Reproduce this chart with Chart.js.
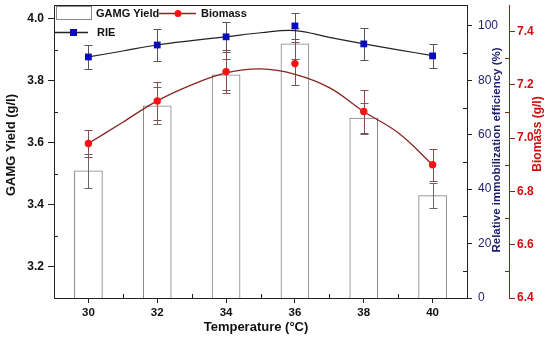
<!DOCTYPE html>
<html>
<head>
<title>GAMG yield, RIE and biomass vs temperature</title>
<script src="https://cdn.jsdelivr.net/npm/chart.js"></script>
<style>
  html, body { margin: 0; padding: 0; background: #fff; }
  #wrap { width: 550px; height: 339px; }
</style>
</head>
<body>
<div id="wrap"><canvas id="myChart" width="550" height="339"></canvas></div>
<script>
var temps = [30, 32, 34, 36, 38, 40];
var gamgYield = [3.51, 3.72, 3.82, 3.92, 3.68, 3.43];
var gamgErr = [0.055, 0.06, 0.05, 0.05, 0.05, 0.04];
var rie = [88.6, 93.0, 96.0, 100.0, 93.4, 89.0];
var rieErr = [4.3, 6.0, 5.5, 4.8, 5.8, 4.5];
var biomass = [6.98, 7.14, 7.25, 7.28, 7.10, 6.90];
var biomassErr = [0.05, 0.07, 0.08, 0.08, 0.08, 0.06];

// fitted curves
var fitTemps = [30, 31, 32, 33, 34, 35, 36, 37, 38, 39, 40];
var rieFit = [88.6, 90.8, 93.0, 94.6, 96.0, 97.5, 98.3, 95.8, 93.4, 91.2, 89.1];
var biomassFit = [6.98, 7.06, 7.14, 7.20, 7.245, 7.26, 7.24, 7.19, 7.10, 7.02, 6.90];

var xTicks = [30, 32, 34, 36, 38, 40];
var xMinor = [31, 33, 35, 37, 39];
var yieldTicks = [3.2, 3.4, 3.6, 3.8, 4.0];
var yieldMinor = [3.3, 3.5, 3.7, 3.9];
var rieTicks = [0, 20, 40, 60, 80, 100];
var rieMinor = [10, 30, 50, 70, 90];
var bioTicks = [6.4, 6.6, 6.8, 7.0, 7.2, 7.4];
var bioMinor = [6.5, 6.7, 6.9, 7.1, 7.3];

var FONT = '"Liberation Sans", Arial, sans-serif';
var NAVY = '#1c1c6e';
var DARKRED = '#8b2323';
var RED = '#d01010';

function pts(xs, ys) {
    return xs.map(function(x, i) { return {x: x, y: ys[i]}; });
}
function setTicks(list) {
    return function(s) { s.ticks = list.map(function(v) { return {value: v}; }); };
}
// fix the box size of a scale and drop the label overflow padding
function fitBox(w, h) {
    return function(s) {
        if (w) s.width = w;
        if (h) s.height = h;
        s.paddingTop = 0; s.paddingBottom = 0;
        s.paddingLeft = 0; s.paddingRight = 0;
    };
}

function drawErr(ctx, ys, errs, xScale, yScale, color) {
    ctx.save();
    ctx.strokeStyle = color;
    ctx.lineWidth = 1;
    for (var i = 0; i < temps.length; i++) {
        var px = Math.round(xScale.getPixelForValue(temps[i])) + 0.5;
        var top = Math.round(yScale.getPixelForValue(ys[i] + errs[i])) + 0.5;
        var bot = Math.round(yScale.getPixelForValue(ys[i] - errs[i])) + 0.5;
        ctx.beginPath();
        ctx.moveTo(px, top); ctx.lineTo(px, bot);
        ctx.moveTo(px - 4, top); ctx.lineTo(px + 4, top);
        ctx.moveTo(px - 4, bot); ctx.lineTo(px + 4, bot);
        ctx.stroke();
    }
    ctx.restore();
}

var errorBars = {
    id: 'errorBars',
    afterDatasetDraw: function(chart, args) {
        if (args.index !== 0) return;
        var s = chart.scales, ctx = chart.ctx;
        drawErr(ctx, gamgYield, gamgErr, s.x, s.y, '#666');
        drawErr(ctx, rie, rieErr, s.x, s.y1, '#555');
        drawErr(ctx, biomass, biomassErr, s.x, s.y2, '#8a4a4a');
    }
};

function minorY(ctx, scale, list, x, dir) {
    list.forEach(function(v) {
        var py = Math.round(scale.getPixelForValue(v)) + 0.5;
        ctx.beginPath(); ctx.moveTo(x, py); ctx.lineTo(x + dir * 4, py); ctx.stroke();
    });
}

var decorations = {
    id: 'decorations',
    afterDraw: function(chart) {
        var ctx = chart.ctx, a = chart.chartArea, s = chart.scales;
        ctx.save();
        ctx.lineWidth = 1;
        // top frame line
        ctx.strokeStyle = '#222';
        ctx.beginPath(); ctx.moveTo(a.left, a.top + 0.5); ctx.lineTo(a.right, a.top + 0.5); ctx.stroke();
        // minor ticks pointing inward
        xMinor.forEach(function(v) {
            var px = Math.round(s.x.getPixelForValue(v)) + 0.5;
            ctx.beginPath(); ctx.moveTo(px, a.bottom); ctx.lineTo(px, a.bottom - 4); ctx.stroke();
        });
        minorY(ctx, s.y, yieldMinor, a.left, 1);
        minorY(ctx, s.y1, rieMinor, a.right, -1);
        ctx.strokeStyle = DARKRED;
        minorY(ctx, s.y2, bioMinor, s.y2.left, -1);

        // axis titles
        ctx.textAlign = 'center';
        ctx.textBaseline = 'middle';
        ctx.fillStyle = '#111';
        ctx.font = 'bold 13px ' + FONT;
        ctx.fillText('Temperature (\u00B0C)', 256, 327);
        ctx.save(); ctx.translate(11, 145); ctx.rotate(-Math.PI / 2);
        ctx.fillText('GAMG Yield (g/l)', 0, 0); ctx.restore();
        ctx.fillStyle = NAVY;
        ctx.font = 'bold 11.5px ' + FONT;
        ctx.save(); ctx.translate(497, 150); ctx.rotate(-Math.PI / 2);
        ctx.fillText('Relative immobilization efficiency (%)', 0, 0); ctx.restore();
        ctx.fillStyle = RED;
        ctx.font = 'bold 12px ' + FONT;
        ctx.save(); ctx.translate(538, 134); ctx.rotate(-Math.PI / 2);
        ctx.fillText('Biomass (g/l)', 0, 0); ctx.restore();

        // legend
        ctx.textAlign = 'left';
        ctx.fillStyle = '#111';
        ctx.font = 'bold 11px ' + FONT;
        ctx.strokeStyle = '#888';
        ctx.strokeRect(56.5, 6.5, 35, 13);
        ctx.fillText('GAMG Yield', 96, 14);
        ctx.strokeStyle = DARKRED; ctx.lineWidth = 1.3;
        ctx.beginPath(); ctx.moveTo(159, 13.5); ctx.lineTo(196, 13.5); ctx.stroke();
        ctx.fillStyle = '#ff1010';
        ctx.beginPath(); ctx.arc(178, 13.5, 3.5, 0, Math.PI * 2); ctx.fill();
        ctx.fillStyle = '#111';
        ctx.fillText('Biomass', 201, 14);
        ctx.strokeStyle = '#222';
        ctx.beginPath(); ctx.moveTo(55, 32.5); ctx.lineTo(88, 32.5); ctx.stroke();
        ctx.fillStyle = '#0a0ac0';
        ctx.fillRect(70, 29, 7, 7);
        ctx.fillStyle = '#111';
        ctx.fillText('RIE', 97, 33);
        ctx.restore();
    }
};

var ctx = document.getElementById('myChart').getContext('2d');
new Chart(ctx, {
    type: 'bar',
    data: {
        datasets: [
            {
                label: 'GAMG Yield',
                data: pts(temps, gamgYield),
                backgroundColor: '#ffffff',
                borderColor: '#808080',
                borderWidth: 1,
                barThickness: 28,
                xAxisID: 'x', yAxisID: 'y',
                order: 5
            },
            {
                type: 'line', label: 'RIE fit',
                data: pts(fitTemps, rieFit),
                borderColor: '#222', borderWidth: 1.2,
                pointRadius: 0, tension: 0.4, fill: false,
                xAxisID: 'x', yAxisID: 'y1', order: 4
            },
            {
                type: 'line', label: 'Biomass fit',
                data: pts(fitTemps, biomassFit),
                borderColor: DARKRED, borderWidth: 1.3,
                pointRadius: 0, tension: 0.4, fill: false,
                xAxisID: 'x', yAxisID: 'y2', order: 3
            },
            {
                type: 'line', label: 'RIE',
                data: pts(temps, rie),
                showLine: false,
                pointStyle: 'rect', pointRadius: 4.8,
                pointBackgroundColor: '#0a0ac0', pointBorderColor: '#0a0ac0', pointBorderWidth: 0,
                xAxisID: 'x', yAxisID: 'y1', order: 2
            },
            {
                type: 'line', label: 'Biomass',
                data: pts(temps, biomass),
                showLine: false,
                pointStyle: 'circle', pointRadius: 3.7,
                pointBackgroundColor: '#ff1010', pointBorderColor: '#ff1010', pointBorderWidth: 0,
                xAxisID: 'x', yAxisID: 'y2', order: 1
            }
        ]
    },
    options: {
        responsive: false,
        animation: false,
        layout: { padding: { top: 5, left: 0, right: 0, bottom: 0 } },
        plugins: { legend: { display: false }, tooltip: { enabled: false } },
        scales: {
            x: {
                type: 'linear', min: 29, max: 41, offset: false,
                afterBuildTicks: setTicks(xTicks),
                afterFit: fitBox(0, 41),
                grid: { drawOnChartArea: false, offset: false, tickLength: 5, color: '#222' },
                border: { color: '#222' },
                ticks: { autoSkip: false, maxRotation: 0, padding: 3, color: '#111',
                         font: { family: FONT, size: 11.5, weight: 'bold' } }
            },
            y: {
                position: 'left', min: 3.1, max: 4.045,
                afterBuildTicks: setTicks(yieldTicks),
                afterFit: fitBox(54, 0),
                grid: { drawOnChartArea: false, tickLength: 6, color: '#222' },
                border: { color: '#222' },
                ticks: { autoSkip: false, padding: 4, color: '#111',
                         font: { family: FONT, size: 12, weight: 'bold' },
                         callback: function(v) { return v.toFixed(1); } }
            },
            y1: {
                position: 'right', min: 0, max: 107.7,
                afterBuildTicks: setTicks(rieTicks),
                afterFit: fitBox(42, 0),
                grid: { drawOnChartArea: false, tickLength: 5, color: '#222' },
                border: { color: '#222' },
                ticks: { autoSkip: false, padding: 6, color: NAVY,
                         font: { family: FONT, size: 12 } }
            },
            y2: {
                position: 'right', min: 6.4, max: 7.5,
                afterBuildTicks: setTicks(bioTicks),
                afterFit: fitBox(41, 0),
                grid: { drawOnChartArea: false, tickLength: 6, color: DARKRED },
                border: { color: DARKRED },
                ticks: { autoSkip: false, padding: 2, color: RED,
                         font: { family: FONT, size: 12, weight: 'bold' },
                         callback: function(v) { return v.toFixed(1); } }
            }
        }
    },
    plugins: [errorBars, decorations]
});
</script>
</body>
</html>
